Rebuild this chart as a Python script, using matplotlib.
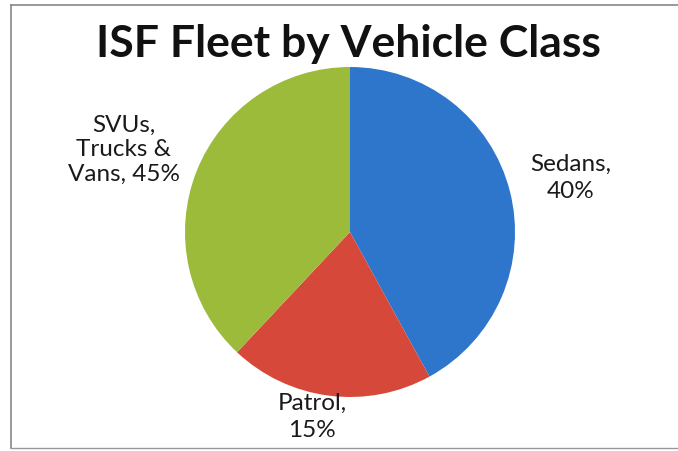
import matplotlib.pyplot as plt
from matplotlib.lines import Line2D

# slice shares as drawn in the picture (clockwise from 12 o'clock)
categories = ["Sedans", "Patrol", "SVUs, Trucks & Vans"]
shares = [42, 20, 38]
label_texts = ["Sedans,\n40%", "Patrol,\n15%", "SVUs,\nTrucks &\nVans, 45%"]
colors = ["#2E76CB", "#D5483A", "#9CBB3B"]

W, H = 678, 451
fig = plt.figure(figsize=(W / 100, H / 100), dpi=100)
plt.rcParams['font.family'] = ['Lato', 'DejaVu Sans']

# pie centre at (350, 232) px, radius 165 px
cx, cy, r = 350, 232, 165
ax = fig.add_axes([(cx - r) / W, (H - cy - r) / H, 2 * r / W, 2 * r / H])
ax.pie(shares, colors=colors, startangle=90, counterclock=False,
       wedgeprops=dict(linewidth=0))
ax.set_xlim(-1, 1)
ax.set_ylim(-1, 1)
ax.set_aspect('equal')
ax.axis('off')

fig.text(348 / W, 1 - 44 / H, "ISF Fleet by Vehicle Class", ha='center', va='center',
         fontsize=32, fontweight='bold', color='#111111')

# label positions (px)
label_pos = [(571, 178), (312, 417), (124, 150)]
spacing = [1.4, 1.4, 1.2]
for txt, (x, y), ls in zip(label_texts, label_pos, spacing):
    fig.text(x / W, 1 - y / H, txt, ha='center', va='center', fontsize=17.5,
             color='#1a1a1a', linespacing=ls)

# scanned frame lines
fig.add_artist(Line2D([11 / W, 1], [1 - 5 / H, 1 - 5 / H], color='#888888', lw=1.2))
fig.add_artist(Line2D([11 / W, 11 / W], [1 - 5 / H, 1 - 448 / H], color='#888888', lw=1.2))
fig.add_artist(Line2D([11 / W, 1], [1 - 448 / H, 1 - 448 / H], color='#999999', lw=1.0))

fig.savefig("out.png", dpi=100)
